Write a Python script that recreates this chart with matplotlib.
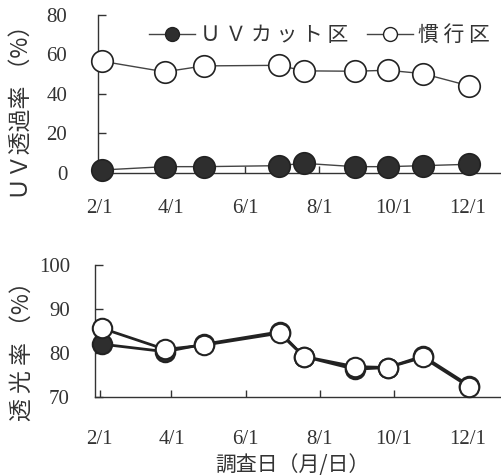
import datetime as dt
import matplotlib
matplotlib.use("Agg")
import matplotlib.pyplot as plt
from matplotlib.lines import Line2D

# survey dates (month/day) and values
dates = ["2/3", "3/27", "4/28", "6/29", "7/19", "8/30", "9/26", "10/25", "12/2"]
uv_cut_uv = [1.5, 3.2, 3.2, 3.7, 4.9, 3.2, 3.2, 3.7, 4.4]
conv_uv = [56.6, 51.2, 54.2, 54.5, 51.7, 51.5, 52.0, 50.3, 44.1]
uv_cut_light = [82.0, 80.3, 82.0, 84.8, 79.2, 76.3, 76.7, 79.3, 72.6]
conv_light = [85.6, 80.8, 81.8, 84.5, 79.2, 76.9, 76.7, 79.0, 72.3]
tick_labels = ["2/1", "4/1", "6/1", "8/1", "10/1", "12/1"]


def doy(s):
    mth, day = [int(v) for v in s.split("/")]
    return dt.date(2001, mth, day).timetuple().tm_yday


x = [doy(d) for d in dates]
xt = [doy(t) for t in tick_labels]

jp = ["Noto Sans CJK JP", "DejaVu Sans"]
num_font = "Liberation Serif"
dark = "#2e2e2e"

fig = plt.figure(figsize=(5.02, 4.76), dpi=100)
ax1 = fig.add_axes([0.195, 0.6366, 0.805, 0.332])
ax2 = fig.add_axes([0.189, 0.166, 0.811, 0.2773])


def style(ax, pad_y, pad_x):
    for s in ["top", "right"]:
        ax.spines[s].set_visible(False)
    for s in ["left", "bottom"]:
        ax.spines[s].set_color("#333333")
        ax.spines[s].set_linewidth(1.0)
    ax.tick_params(axis="y", direction="in", length=6, width=1, colors="#333333", pad=pad_y)
    ax.tick_params(axis="x", direction="in", length=5, width=1, colors="#333333", pad=pad_x)
    ax.set_xticks(xt)
    ax.set_xticklabels(tick_labels)
    for lab in ax.get_xticklabels() + ax.get_yticklabels():
        lab.set_fontfamily(num_font)
        lab.set_fontsize(15)
        lab.set_color("#333333")


# top: UV transmittance
ax1.plot(x, uv_cut_uv, "-", color="#444444", lw=1.0, marker="o", ms=15.5,
         mfc=dark, mec="#222222", mew=1.2, clip_on=False, zorder=3)
ax1.plot(x, conv_uv, "-", color="#444444", lw=1.0, marker="o", ms=15.5,
         mfc="white", mec="#222222", mew=1.2, clip_on=False, zorder=3)
ax1.set_xlim(31, 363)
ax1.set_ylim(0, 80)
ax1.set_yticks([0, 20, 40, 60, 80])
style(ax1, 22, 19)
ax1.set_ylabel("ＵＶ透過率 （%）", family=jp, fontsize=16.5, color="#333333")
ax1.yaxis.set_label_coords(-0.16, 0.42)

# bottom: light transmittance
ax2.plot(x, uv_cut_light, "-", color="#222222", lw=2.0, marker="o", ms=14,
         mfc=dark, mec="#222222", mew=1.5, clip_on=False, zorder=3)
ax2.plot(x, conv_light, "-", color="#222222", lw=2.0, marker="o", ms=14,
         mfc="white", mec="#222222", mew=1.5, clip_on=False, zorder=4)
ax2.set_xlim(28, 363)
ax2.set_ylim(70, 100)
ax2.set_yticks([70, 80, 90, 100])
style(ax2, 18, 24)
ax2.set_ylabel("透 光 率 （%）", family=jp, fontsize=16.5, color="#333333")
ax2.yaxis.set_label_coords(-0.15, 0.39)
ax2.set_xlabel("調査日（月/日）", family=jp, fontsize=15, color="#333333")
ax2.xaxis.set_label_coords(0.484, -0.43)

handles = [
    Line2D([], [], color="#444444", lw=1.0, marker="o", ms=10, mfc=dark, mec="#222222"),
    Line2D([], [], color="#444444", lw=1.0, marker="o", ms=10, mfc="white", mec="#222222"),
]
fig.legend(handles, ["Ｕ Ｖ カ ッ ト 区", "慣 行 区"], loc="center right",
           bbox_to_anchor=(0.976, 1 - 35 / 476), ncol=2, frameon=False,
           prop={"family": jp, "size": 15}, handlelength=2.2, handletextpad=0.25,
           columnspacing=0.9, labelcolor="#333333", borderpad=0, borderaxespad=0)

fig.savefig("out.png", dpi=100)
